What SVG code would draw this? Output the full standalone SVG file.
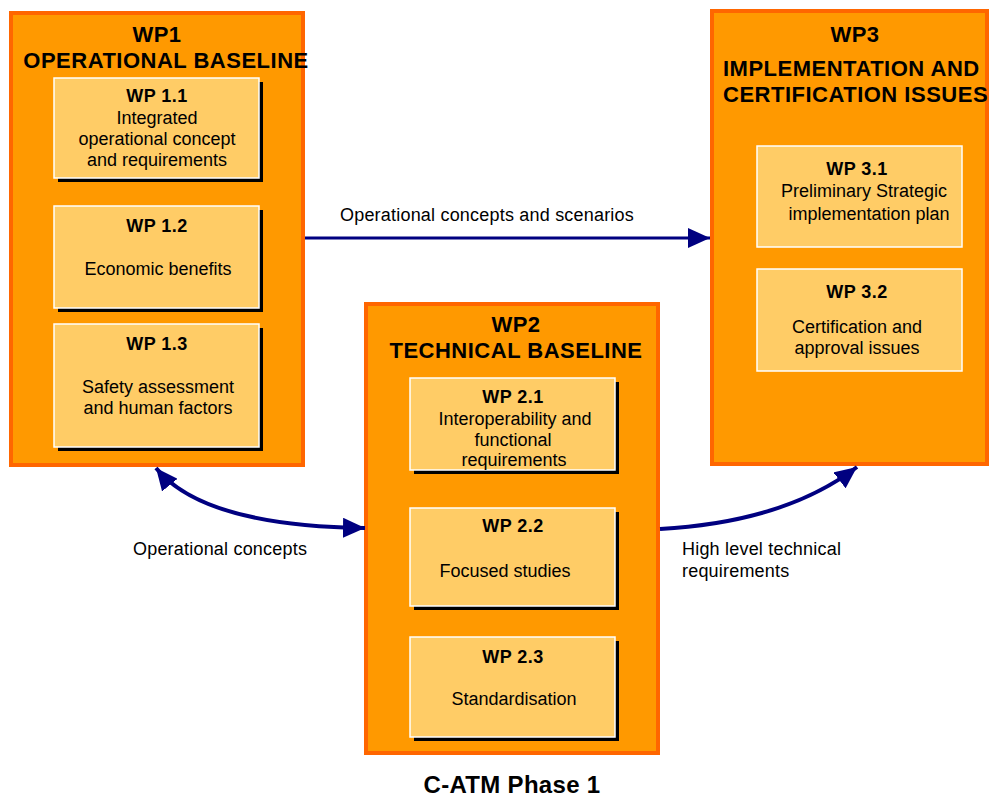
<svg xmlns="http://www.w3.org/2000/svg" width="991" height="798" viewBox="0 0 991 798">
<style>
.wp{fill:#FF9900;stroke:#FF6600;stroke-width:4}
.sh{fill:#000}
.bx{fill:#FFCC66;stroke:#FFFFFF;stroke-width:1.5}
text{font-family:"Liberation Sans",Arial,sans-serif;fill:#000}
.t{font-size:22px;font-weight:bold;letter-spacing:0.5px}
.h{font-size:18px;font-weight:bold;text-anchor:middle;letter-spacing:0.5px}
.b{font-size:18px;text-anchor:middle}
.l{font-size:18px;letter-spacing:0.2px}
.c{stroke:#000080;fill:none}
</style>
<defs>
<marker id="ah" markerUnits="userSpaceOnUse" markerWidth="22" markerHeight="20" refX="22" refY="10" orient="auto-start-reverse" viewBox="0 0 22 20">
<path d="M0,0 L22,10 L0,20 z" fill="#000080"/>
</marker>
</defs>

<g id="wp1">
<rect class="wp" x="11" y="13" width="292" height="452"/>
<text class="t" x="157" y="42" text-anchor="middle">WP1</text>
<text class="t" x="166" y="68" text-anchor="middle">OPERATIONAL BASELINE</text>
</g>
<g id="wp1_1">
<rect class="sh" x="58" y="82" width="205" height="100"/>
<rect class="bx" x="54" y="78" width="205" height="100"/>
<text class="h" x="157" y="102">WP 1.1</text>
<text class="b" x="157" y="124">Integrated</text>
<text class="b" x="157" y="145">operational concept</text>
<text class="b" x="157" y="166">and requirements</text>
</g>
<g id="wp1_2">
<rect class="sh" x="58" y="210" width="205" height="102"/>
<rect class="bx" x="54" y="206" width="205" height="102"/>
<text class="h" x="157" y="232">WP 1.2</text>
<text class="b" x="158" y="275">Economic benefits</text>
</g>
<g id="wp1_3">
<rect class="sh" x="58" y="328" width="205" height="123"/>
<rect class="bx" x="54" y="324" width="205" height="123"/>
<text class="h" x="157" y="350">WP 1.3</text>
<text class="b" x="158" y="393">Safety assessment</text>
<text class="b" x="158" y="414">and human factors</text>
</g>

<g id="wp3">
<rect class="wp" x="712" y="11" width="275" height="453"/>
<text class="t" x="855" y="42" text-anchor="middle">WP3</text>
<text class="t" x="723" y="76">IMPLEMENTATION AND</text>
<text class="t" x="723" y="102">CERTIFICATION ISSUES</text>
</g>
<g id="wp3_1">
<rect class="bx" x="757" y="146" width="205" height="101"/>
<text class="h" x="857" y="175">WP 3.1</text>
<text class="b" x="864" y="197">Preliminary Strategic</text>
<text class="b" x="869" y="220">implementation plan</text>
</g>
<g id="wp3_2">
<rect class="bx" x="757" y="269" width="205" height="102"/>
<text class="h" x="857" y="298">WP 3.2</text>
<text class="b" x="857" y="333">Certification and</text>
<text class="b" x="857" y="354">approval issues</text>
</g>

<g id="wp2">
<rect class="wp" x="366" y="304" width="292" height="449"/>
<text class="t" x="516" y="332" text-anchor="middle">WP2</text>
<text class="t" x="516" y="358" text-anchor="middle">TECHNICAL BASELINE</text>
</g>
<g id="wp2_1">
<rect class="sh" x="414" y="382" width="205" height="92"/>
<rect class="bx" x="410" y="378" width="205" height="92"/>
<text class="h" x="513" y="403">WP 2.1</text>
<text class="b" x="515" y="425">Interoperability and</text>
<text class="b" x="513" y="446">functional</text>
<text class="b" x="514" y="466">requirements</text>
</g>
<g id="wp2_2">
<rect class="sh" x="414" y="512" width="205" height="98"/>
<rect class="bx" x="410" y="508" width="205" height="98"/>
<text class="h" x="513" y="532">WP 2.2</text>
<text class="b" x="505" y="577">Focused studies</text>
</g>
<g id="wp2_3">
<rect class="sh" x="414" y="641" width="205" height="100"/>
<rect class="bx" x="410" y="637" width="205" height="100"/>
<text class="h" x="513" y="663">WP 2.3</text>
<text class="b" x="514" y="705">Standardisation</text>
</g>

<g id="connectors">
<path class="c" d="M305,238 L710,238" stroke-width="3" marker-end="url(#ah)"/>
<path class="c" d="M156,468 Q203,526 365,528" stroke-width="4" marker-start="url(#ah)" marker-end="url(#ah)"/>
<path class="c" d="M660,529 Q785,522 857,467" stroke-width="4" marker-end="url(#ah)"/>
</g>

<g id="labels">
<text class="l" x="340" y="221">Operational concepts and scenarios</text>
<text class="l" x="133" y="555">Operational concepts</text>
<text class="l" x="682" y="555">High level technical</text>
<text class="l" x="682" y="577">requirements</text>
<text x="512" y="793" text-anchor="middle" font-size="24" font-weight="bold" letter-spacing="0.3">C-ATM Phase 1</text>
</g>
</svg>
